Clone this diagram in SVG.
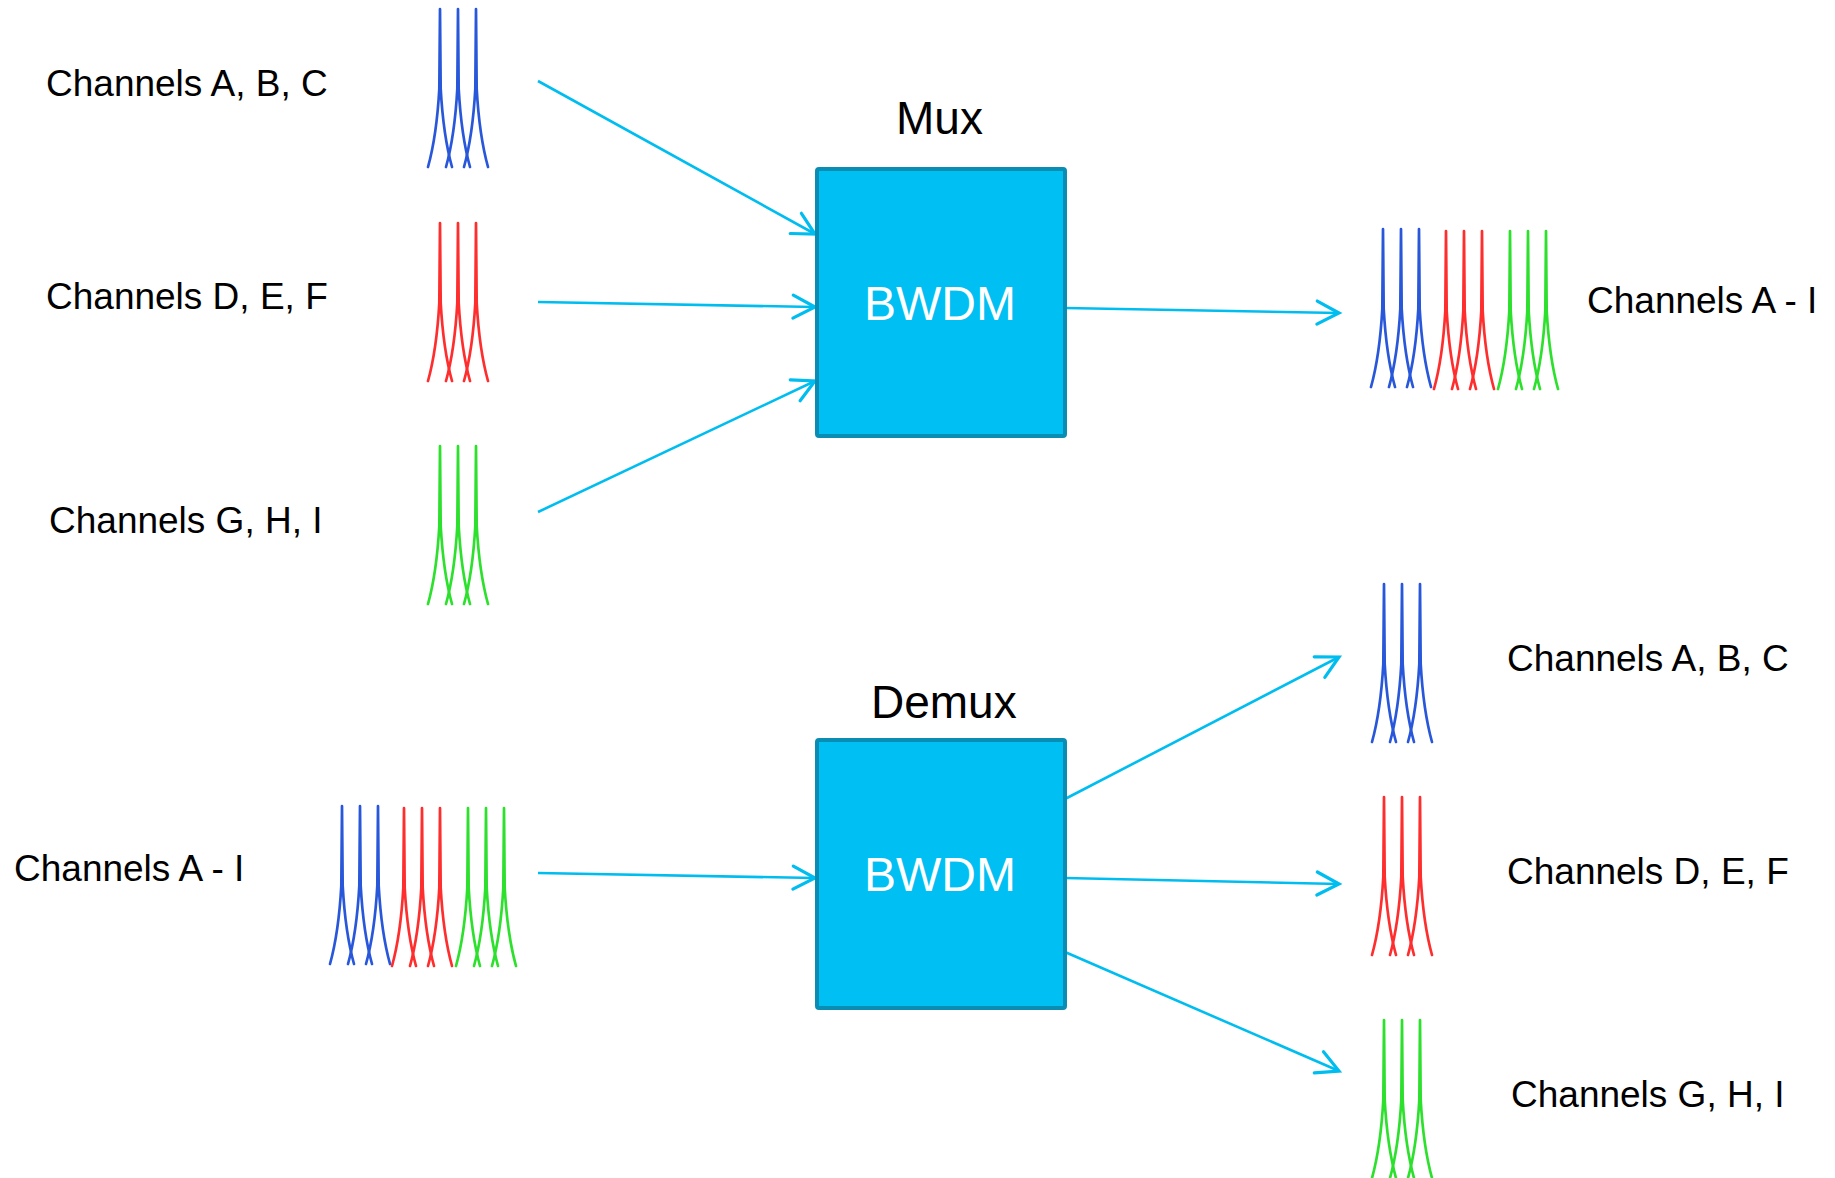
<svg xmlns="http://www.w3.org/2000/svg" xmlns:xlink="http://www.w3.org/1999/xlink" width="1835" height="1178" viewBox="0 0 1835 1178">
<style>
.lbl{font-family:"Liberation Sans",Arial,sans-serif;font-size:37px;fill:#000}
.ttl{font-family:"Liberation Sans",Arial,sans-serif;font-size:46px;fill:#000}
.box{fill:#00BFF2;stroke:#0A8DB3;stroke-width:4}
.bt{font-family:"Liberation Sans",Arial,sans-serif;font-size:48px;fill:#fff;text-anchor:middle}
.conn{stroke:#00BDF0;stroke-width:2.6;fill:none;marker-end:url(#ah)}
.pb{stroke:#2857DA}
.pr{stroke:#FF2E2E}
.pg{stroke:#2EE02E}
.pk{fill:none;stroke-width:2.7;stroke-linejoin:round;stroke-linecap:round}
</style>
<defs>
<marker id="ah" markerUnits="userSpaceOnUse" markerWidth="30" markerHeight="30" viewBox="-22 -13 26 26" refX="0" refY="0" orient="auto">
<path d="M-19,-10 L0,0 L-19,10" fill="none" stroke="#00BDF0" stroke-width="2.8" stroke-linecap="round" stroke-linejoin="miter"/>
</marker>
<path id="pk" d="M-12,158 C-7,140 -2.5,112 -0.7,80 L0,0 L0.7,80 C2.5,112 7,140 12,158"/>
<g id="tri">
<use xlink:href="#pk" x="0"/>
<use xlink:href="#pk" x="18"/>
<use xlink:href="#pk" x="36"/>
</g>
</defs>
<rect width="1835" height="1178" fill="#fff"/>

<g id="connectors">
<line class="conn" x1="538" y1="81" x2="815" y2="234"/>
<line class="conn" x1="538" y1="302" x2="815" y2="307"/>
<line class="conn" x1="538" y1="512" x2="815" y2="381"/>
<line class="conn" x1="1065" y1="308" x2="1339" y2="313"/>
<line class="conn" x1="538" y1="873" x2="815" y2="878"/>
<line class="conn" x1="1065" y1="799" x2="1339" y2="657"/>
<line class="conn" x1="1065" y1="878" x2="1339" y2="884"/>
<line class="conn" x1="1065" y1="952" x2="1339" y2="1071"/>
</g>

<g id="mux">
<text class="ttl" x="896" y="134">Mux</text>
<rect class="box" x="817" y="169" width="248" height="267" rx="2"/>
<text class="bt" x="940" y="320">BWDM</text>
</g>

<g id="demux">
<text class="ttl" x="871" y="718">Demux</text>
<rect class="box" x="817" y="740" width="248" height="268" rx="2"/>
<text class="bt" x="940" y="891">BWDM</text>
</g>

<g id="in-abc">
<text class="lbl" x="46" y="96">Channels A, B, C</text>
<use class="pk pb" xlink:href="#tri" x="440" y="9"/>
</g>
<g id="in-def">
<text class="lbl" x="46" y="309">Channels D, E, F</text>
<use class="pk pr" xlink:href="#tri" x="440" y="223"/>
</g>
<g id="in-ghi">
<text class="lbl" x="49" y="533">Channels G, H, I</text>
<use class="pk pg" xlink:href="#tri" x="440" y="446"/>
</g>

<g id="mux-out">
<use class="pk pb" xlink:href="#tri" x="1383" y="229"/>
<use class="pk pr" xlink:href="#tri" x="1446" y="231"/>
<use class="pk pg" xlink:href="#tri" x="1510" y="231"/>
<text class="lbl" x="1587" y="313">Channels A - I</text>
</g>

<g id="demux-in">
<text class="lbl" x="14" y="881">Channels A - I</text>
<use class="pk pb" xlink:href="#tri" x="342" y="806"/>
<use class="pk pr" xlink:href="#tri" x="404" y="808"/>
<use class="pk pg" xlink:href="#tri" x="468" y="808"/>
</g>

<g id="out-abc">
<use class="pk pb" xlink:href="#tri" x="1384" y="584"/>
<text class="lbl" x="1507" y="671">Channels A, B, C</text>
</g>
<g id="out-def">
<use class="pk pr" xlink:href="#tri" x="1384" y="797"/>
<text class="lbl" x="1507" y="884">Channels D, E, F</text>
</g>
<g id="out-ghi">
<use class="pk pg" xlink:href="#tri" x="1384" y="1020"/>
<text class="lbl" x="1511" y="1107">Channels G, H, I</text>
</g>
</svg>
